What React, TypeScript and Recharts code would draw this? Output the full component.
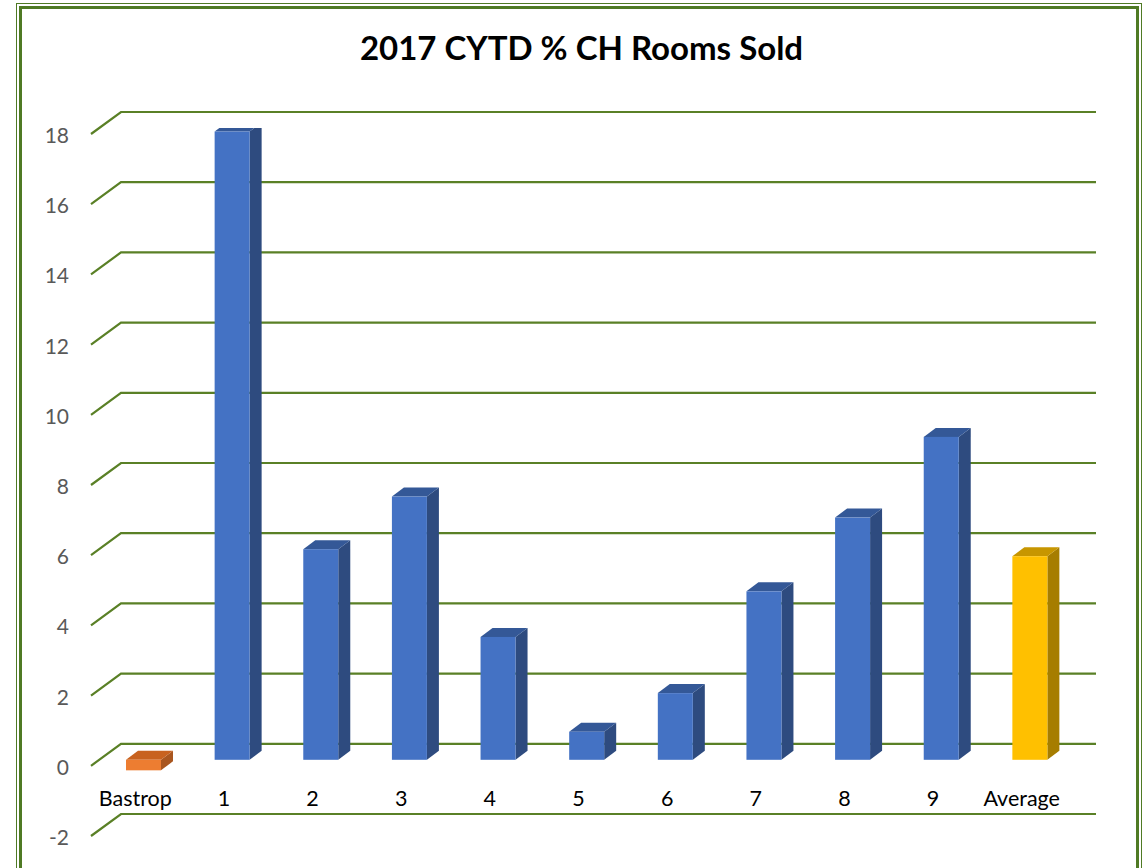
import React from 'react';
import { BarChart, Bar, XAxis, YAxis, CartesianGrid } from 'recharts';

const categories = ['Bastrop', '1', '2', '3', '4', '5', '6', '7', '8', '9', 'Average'];
const values = [-0.3, 17.9, 6.0, 7.5, 3.5, 0.8, 1.9, 4.8, 6.9, 9.2, 5.8];
const yTicks = [-2, 0, 2, 4, 6, 8, 10, 12, 14, 16, 18];

const data = categories.map((name, i) => ({ name, value: values[i] }));

// front / side / top colours for the 3D blocks
const PALETTE: Record<string, [string, string, string]> = {
  Bastrop: ['#ED7D31', '#A9561F', '#C8621F'],
  Average: ['#FFC000', '#A67D00', '#C79600'],
  default: ['#4472C4', '#2E4B7F', '#345897'],
};

const GRID = '#5A8026';
const FRAME = '#4F7A24';
// perspective offsets relative to the bar plane
const FRONT = { dx: -8, dy: 6 };
const BACK = { dx: 22, dy: -16 };
const DEPTH = { dx: 12, dy: -9 };
const FONT = 'Lato, "Open Sans", sans-serif';

const Bar3D = (props: any) => {
  const { x, y, width, height, payload } = props;
  const [front, side, top] = PALETTE[payload.name] || PALETTE.default;
  const yt = Math.min(y, y + height);
  const yb = Math.max(y, y + height);
  const { dx, dy } = DEPTH;
  return (
    <g>
      <polygon
        points={`${x + width},${yt} ${x + width + dx},${yt + dy} ${x + width + dx},${yb + dy} ${x + width},${yb}`}
        fill={side}
      />
      <polygon
        points={`${x},${yt} ${x + dx},${yt + dy} ${x + width + dx},${yt + dy} ${x + width},${yt}`}
        fill={top}
      />
      <rect x={x} y={yt} width={width} height={yb - yt} fill={front} />
    </g>
  );
};

// floor-style gridline: short diagonal at the front, then along the back wall
const GridLine = (props: any) => {
  const { x1, x2, y1 } = props;
  const fx = x1 + FRONT.dx;
  const fy = y1 + FRONT.dy;
  const bx = x1 + BACK.dx;
  const by = y1 + BACK.dy;
  return (
    <g key={`g-${y1}`}>
      <polyline
        points={`${fx},${fy} ${bx},${by} ${x2 + BACK.dx},${by}`}
        fill="none"
        stroke={GRID}
        strokeWidth={2.2}
      />
    </g>
  );
};

const YTick = (props: any) => {
  const { x, y, payload } = props;
  return (
    <text
      x={x - 22}
      y={y + FRONT.dy + 9}
      textAnchor="end"
      fill="#595959"
      fontSize={21}
      fontFamily={FONT}
    >
      {payload.value}
    </text>
  );
};

const XTick = (props: any) => {
  const { x, y, payload } = props;
  return (
    <text
      x={x + FRONT.dx}
      y={y - 32}
      textAnchor="middle"
      fill="#000"
      fontSize={21.5}
      fontFamily={FONT}
    >
      {payload.value}
    </text>
  );
};

export default function App() {
  return (
    <div style={{ position: 'absolute', left: 0, top: 0, width: 1147, height: 868, overflow: 'hidden', background: '#fff' }}>
      <div style={{ position: 'absolute', left: 16, top: 3, width: 1124, height: 900, border: `1px solid ${FRAME}` }} />
      <div style={{ position: 'absolute', left: 19, top: 6, width: 1114, height: 900, border: `3px solid ${FRAME}` }} />
      <div
        style={{
          position: 'absolute',
          left: 0,
          top: 27,
          width: 1147,
          textAlign: 'center',
          fontFamily: FONT,
          fontWeight: 'bold',
          fontSize: 33,
          color: '#000',
          paddingLeft: 8,
        }}
      >
        2017 CYTD % CH Rooms Sold
      </div>
      <div style={{ position: 'absolute', left: 0, top: 0 }}>
        <BarChart width={1147} height={868} data={data} margin={{ top: 128, right: 73, bottom: 8, left: 39 }}>
          <CartesianGrid vertical={false} horizontal={(p: any) => <GridLine {...p} />} />
          <XAxis dataKey="name" axisLine={false} tickLine={false} height={30} interval={0} tick={<XTick />} />
          <YAxis
            domain={[-2, 18]}
            ticks={yTicks}
            width={60}
            axisLine={false}
            tickLine={false}
            tick={<YTick />}
            allowDataOverflow
          />
          <Bar dataKey="value" barSize={35} isAnimationActive={false} shape={(p: any) => <Bar3D {...p} />} />
        </BarChart>
      </div>
    </div>
  );
}
